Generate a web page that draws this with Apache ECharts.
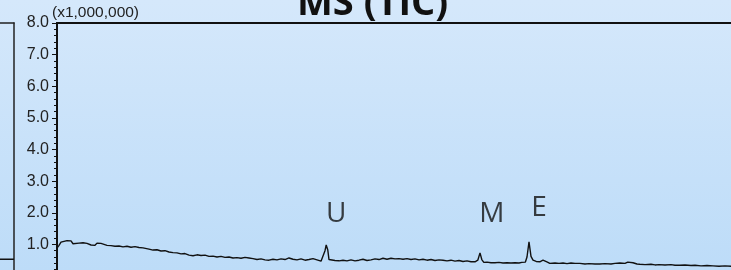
<!DOCTYPE html>
<html>
<head>
<meta charset="utf-8">
<script src="https://cdn.jsdelivr.net/npm/echarts@6/dist/echarts.min.js"></script>
<style>
  html, body { margin: 0; padding: 0; }
  #tic { width: 731px; height: 270px; }
</style>
</head>
<body>
<div id="tic"></div>
<script>
// retention time (min) / intensity (x1,000,000)
var ticTrace = [
    [0, 0.88], [0.05, 0.97], [0.1, 1.07], [0.15, 1.10], [0.25, 1.12], [0.35, 1.11], [0.4, 1.02],
    [0.45, 1.05], [0.55, 1.04], [0.6, 1.08], [0.65, 1.05], [0.75, 1.03], [0.85, 0.98], [0.9, 1.01],
    [0.95, 0.97], [1.0, 1.04], [1.05, 1.00], [1.1, 1.03], [1.15, 0.99], [1.25, 0.97], [1.35, 0.96],
    [1.45, 0.94], [1.55, 0.95], [1.65, 0.92], [1.75, 0.94], [1.85, 0.91], [1.95, 0.93], [2.05, 0.90],
    [2.1, 0.86], [2.15, 0.89], [2.2, 0.84], [2.3, 0.85], [2.4, 0.82], [2.5, 0.83], [2.6, 0.79],
    [2.7, 0.80], [2.8, 0.76], [2.9, 0.74], [3.0, 0.73], [3.1, 0.70], [3.2, 0.71], [3.3, 0.66],
    [3.4, 0.64], [3.5, 0.67], [3.6, 0.65], [3.7, 0.66], [3.8, 0.62], [3.9, 0.63], [4.0, 0.60],
    [4.1, 0.62], [4.2, 0.59], [4.3, 0.60], [4.4, 0.57], [4.5, 0.58], [4.6, 0.56], [4.7, 0.59],
    [4.8, 0.57], [4.9, 0.55], [5.0, 0.52], [5.1, 0.54], [5.2, 0.51], [5.3, 0.50], [5.4, 0.53],
    [5.5, 0.51], [5.6, 0.54], [5.7, 0.52], [5.8, 0.57], [5.9, 0.53], [6.0, 0.51], [6.1, 0.54],
    [6.2, 0.50], [6.3, 0.52], [6.4, 0.55], [6.5, 0.51], [6.6, 0.47], [6.65, 0.50], [6.7, 0.80],
    [6.73, 0.98], [6.77, 0.82], [6.8, 0.52], [6.85, 0.47], [6.95, 0.49], [7.05, 0.48], [7.15, 0.50],
    [7.25, 0.48], [7.35, 0.51], [7.45, 0.48], [7.55, 0.50], [7.65, 0.53], [7.75, 0.49], [7.85, 0.51],
    [7.95, 0.54], [8.05, 0.52], [8.15, 0.56], [8.25, 0.53], [8.35, 0.56], [8.45, 0.54], [8.55, 0.55],
    [8.65, 0.53], [8.75, 0.55], [8.85, 0.52], [8.95, 0.54], [9.05, 0.51], [9.15, 0.53], [9.25, 0.50],
    [9.35, 0.52], [9.45, 0.49], [9.55, 0.51], [9.65, 0.50], [9.75, 0.48], [9.85, 0.50], [9.95, 0.47],
    [10.05, 0.49], [10.15, 0.46], [10.25, 0.48], [10.35, 0.45], [10.45, 0.45], [10.52, 0.50],
    [10.575, 0.73], [10.62, 0.52], [10.67, 0.43], [10.75, 0.44], [10.85, 0.42], [10.9, 0.45],
    [10.95, 0.42], [11.05, 0.43], [11.15, 0.41], [11.25, 0.42], [11.35, 0.41], [11.45, 0.42],
    [11.55, 0.41], [11.62, 0.43], [11.66, 0.47], [11.71, 0.44], [11.75, 0.60], [11.8, 1.08],
    [11.85, 0.62], [11.9, 0.50], [11.98, 0.46], [12.07, 0.45], [12.15, 0.50], [12.2, 0.56],
    [12.26, 0.44], [12.32, 0.40], [12.45, 0.41], [12.55, 0.40], [12.65, 0.41], [12.75, 0.39],
    [12.85, 0.41], [12.95, 0.40], [13.07, 0.40], [13.2, 0.38], [13.3, 0.39], [13.45, 0.38],
    [13.57, 0.38], [13.7, 0.39], [13.85, 0.38], [13.95, 0.40], [14.07, 0.41], [14.2, 0.40],
    [14.27, 0.44], [14.32, 0.49], [14.4, 0.42], [14.5, 0.38], [14.57, 0.37], [14.7, 0.36],
    [14.85, 0.37], [14.95, 0.35], [15.05, 0.36], [15.2, 0.35], [15.35, 0.36], [15.45, 0.34],
    [15.57, 0.34], [15.7, 0.35], [15.85, 0.33], [15.95, 0.34], [16.1, 0.32], [16.25, 0.33],
    [16.4, 0.32], [16.55, 0.31], [16.7, 0.32], [16.85, 0.31], [17.0, 0.31]
];

// peak labels: name, time, height of the label
var peakNames = ['U', 'M', 'E'];
var peakTimes = [6.98, 10.87, 12.05];
var peakLabelHeights = [1.95, 1.95, 2.14];

var yTicks = [1, 2, 3, 4, 5, 6, 7, 8];

// the edge of the neighbouring chart on the left
var neighbourTrace = [[0, 0.53], [1, 0.53]];

var peakPoints = [];
for (var i = 0; i < peakNames.length; i++) {
    peakPoints.push({ name: peakNames[i], value: [peakTimes[i], peakLabelHeights[i]] });
}

var chart = echarts.init(document.getElementById('tic'), null, { renderer: 'canvas' });
var option = {
    animation: false,
    backgroundColor: {
        type: 'linear', x: 0, y: 0, x2: 0, y2: 1,
        colorStops: [
            { offset: 0, color: '#d5e8fb' },
            { offset: 1, color: '#bddcf8' }
        ]
    },
    title: {
        text: 'MS (TIC)',
        left: 292,
        top: -20,
        textStyle: {
            fontFamily: 'Open Sans',
            fontWeight: 'bold',
            fontSize: 38,
            color: '#111'
        }
    },
    graphic: [{
        type: 'text',
        left: 52,
        top: 5,
        style: {
            text: '(x1,000,000)',
            font: '15.5px "Liberation Sans"',
            fill: '#222'
        }
    }],
    grid: [
        { left: 57, right: -6, top: 23, bottom: -6, outerBoundsMode: 'none', show: true, borderColor: '#111', borderWidth: 2, backgroundColor: 'transparent' },
        { left: -60, width: 74, top: 23, bottom: -6, outerBoundsMode: 'none' }
    ],
    xAxis: [
        { gridIndex: 0, type: 'value', min: 0, max: 17, show: false },
        {
            gridIndex: 1, type: 'value', min: 0, max: 1, position: 'top',
            axisLine: { show: true, onZero: false, lineStyle: { color: '#222', width: 1.5 } },
            axisTick: { show: false }, axisLabel: { show: false }, splitLine: { show: false }
        }
    ],
    yAxis: [
        {
            gridIndex: 0, type: 'value', min: 0, max: 8, interval: 1,
            axisLine: { show: true, onZero: false, lineStyle: { color: '#111', width: 1 } },
            axisTick: { show: true, length: 5, lineStyle: { color: '#111' } },
            minorTick: { show: true, splitNumber: 5, length: 3, lineStyle: { color: '#111' } },
            splitLine: { show: false },
            axisLabel: {
                margin: 8,
                fontFamily: 'Liberation Sans',
                fontSize: 16,
                color: '#222',
                formatter: function (v) {
                    return yTicks.indexOf(v) >= 0 ? v.toFixed(1) : '';
                }
            }
        },
        {
            gridIndex: 1, type: 'value', min: 0, max: 8, position: 'right',
            axisLine: { show: true, onZero: false, lineStyle: { color: '#222', width: 1.5 } },
            axisTick: { show: false }, axisLabel: { show: false }, splitLine: { show: false }
        }
    ],
    series: [
        {
            name: 'TIC',
            type: 'line',
            xAxisIndex: 0,
            yAxisIndex: 0,
            data: ticTrace,
            showSymbol: false,
            lineStyle: { color: '#111', width: 1.4 }
        },
        {
            name: 'peaks',
            type: 'scatter',
            xAxisIndex: 0,
            yAxisIndex: 0,
            data: peakPoints,
            symbolSize: 0,
            label: {
                show: true,
                position: 'inside',
                formatter: '{b}',
                fontFamily: 'Open Sans',
                fontSize: 28,
                color: '#111'
            }
        },
        {
            name: 'neighbour',
            type: 'line',
            xAxisIndex: 1,
            yAxisIndex: 1,
            data: neighbourTrace,
            showSymbol: false,
            lineStyle: { color: '#111', width: 1.3 }
        }
    ]
};
chart.setOption(option);
</script>
</body>
</html>
